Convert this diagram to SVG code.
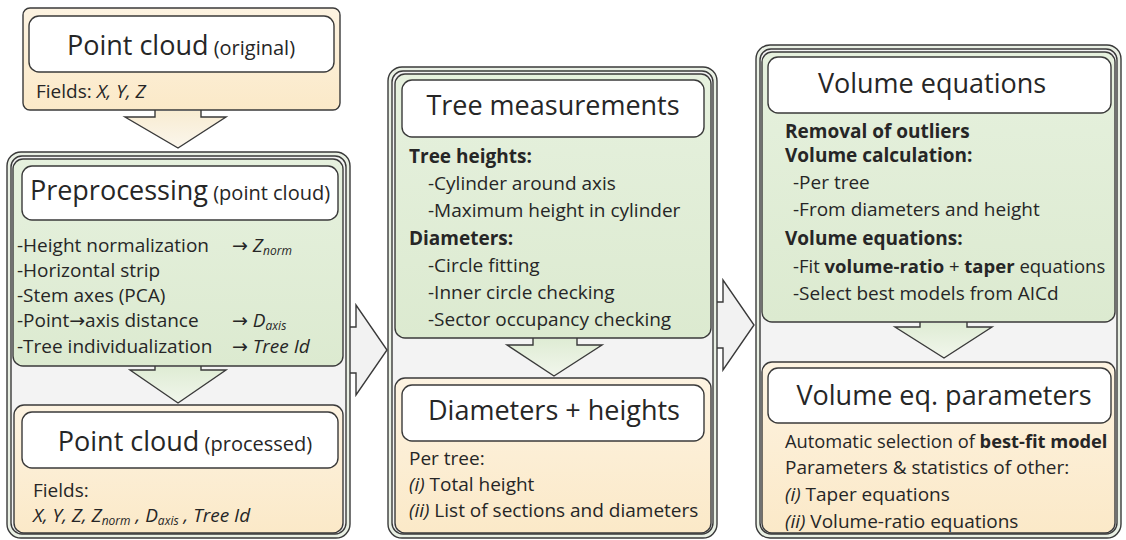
<svg xmlns="http://www.w3.org/2000/svg" width="1126" height="540" viewBox="0 0 1126 540">
<defs>
<linearGradient id="beige" x1="0" y1="0" x2="0" y2="1"><stop offset="0" stop-color="#fdf3e1"/><stop offset="1" stop-color="#fbe9c8"/></linearGradient>
<linearGradient id="green" x1="0" y1="0" x2="0" y2="1"><stop offset="0" stop-color="#e6f1de"/><stop offset="1" stop-color="#dcead0"/></linearGradient>
<linearGradient id="garrow" x1="0" y1="0" x2="0" y2="1"><stop offset="0" stop-color="#dfecd4"/><stop offset="1" stop-color="#f1f6ec"/></linearGradient>
<linearGradient id="barrow" x1="0" y1="0" x2="0" y2="1"><stop offset="0" stop-color="#f8ecd2"/><stop offset="1" stop-color="#fbf6ec"/></linearGradient>
</defs>
<style>
text{font-family:"Open Sans","Noto Sans","DejaVu Sans",sans-serif;fill:#262626;font-size:19px}
.ttl{font-size:27px}
.par{font-size:20px}
.b{font-weight:700}
.i{font-style:italic}
.sub{font-size:12px;font-style:italic}
.ln{stroke:#3a3a3a;stroke-width:1.4;fill:none}
.frameOut{fill:#e9f0e4;stroke:#3a3a3a;stroke-width:1.4}
.frameIn{fill:#f3f3f3;stroke:#3a3a3a;stroke-width:1.4}
.bg{fill:url(#beige);stroke:#3a3a3a;stroke-width:1.4}
.gr{fill:url(#green);stroke:#3a3a3a;stroke-width:1.4}
.wt{fill:#ffffff;stroke:#3a3a3a;stroke-width:1.4}
</style>
<rect width="1126" height="540" fill="#ffffff"/>

<!-- right arrows (beneath frames) -->
<g id="connectors-right">
<polygon points="345,327 356,327 356,305 387,350 356,395 356,373 345,373" fill="#f2f2f2"/>
<path class="ln" d="M349,327 H356 V305 L387,350 L356,395 V373 H349"/>
<polygon points="712,302 723,302 723,280 754,325 723,370 723,348 712,348" fill="#f2f2f2"/>
<path class="ln" d="M716,302 H723 V280 L754,325 L723,370 V348 H716"/>
</g>

<!-- frames -->
<g id="frame-preprocessing">
<rect class="frameOut" x="7" y="152" width="343" height="386" rx="14"/>
<rect class="frameIn" x="11" y="156" width="335" height="378" rx="11"/>
</g>
<g id="frame-tree">
<rect class="frameOut" x="388" y="67" width="329" height="471" rx="14"/>
<rect class="frameIn" x="392" y="71" width="321" height="463" rx="11"/>
</g>
<g id="frame-volume">
<rect class="frameOut" x="756" y="45" width="365" height="493" rx="14"/>
<rect class="frameIn" x="760" y="49" width="357" height="485" rx="11"/>
</g>

<!-- down arrows -->
<g id="connectors">
<polygon points="155,111 155,117 125,117 178,148 226,117 201,117 201,111" fill="url(#barrow)"/>
<path class="ln" d="M155,110 V117 H125 L178,148 L226,117 H201 V110"/>
<polygon points="155,367 155,370 130,370 178,403 226,370 201,370 201,367" fill="url(#garrow)"/>
<path class="ln" d="M155,366 V370 H130 L178,403 L226,370 H201 V366"/>
<polygon points="533,339 533,345 507,345 554,376 602,345 577,345 577,339" fill="url(#garrow)"/>
<path class="ln" d="M533,338 V345 H507 L554,376 L602,345 H577 V338"/>
<polygon points="920,323 920,327 895,327 944,358 992,327 967,327 967,323" fill="url(#garrow)"/>
<path class="ln" d="M920,322 V327 H895 L944,358 L992,327 H967 V322"/>
</g>

<!-- Column 1 -->
<g id="pc-original">
<rect class="bg" x="23" y="8" width="317" height="102" rx="7"/>
<rect class="wt" x="29" y="16" width="305" height="56" rx="10"/>
<text x="181" y="55" text-anchor="middle"><tspan class="ttl">Point cloud</tspan><tspan class="par"> (original)</tspan></text>
<text x="36" y="98">Fields: <tspan class="i">X, Y, Z</tspan></text>
</g>

<g id="preprocessing">
<rect class="gr" x="13" y="159" width="330" height="207" rx="10"/>
<rect class="wt" x="22" y="166" width="316" height="54" rx="10"/>
<text x="180" y="200" text-anchor="middle"><tspan class="ttl">Preprocessing</tspan><tspan class="par"> (point cloud)</tspan></text>
<text x="17" y="252">-Height normalization <tspan x="232">→ </tspan><tspan class="i">Z</tspan><tspan class="sub" dy="3">norm</tspan></text>
<text x="17" y="277">-Horizontal strip</text>
<text x="17" y="302">-Stem axes (PCA)</text>
<text x="17" y="327">-Point→axis distance <tspan x="232">→ </tspan><tspan class="i">D</tspan><tspan class="sub" dy="3">axis</tspan></text>
<text x="17" y="353">-Tree individualization <tspan x="232">→ </tspan><tspan class="i">Tree Id</tspan></text>
</g>

<g id="pc-processed">
<rect class="bg" x="14" y="405" width="329" height="128" rx="10"/>
<rect class="wt" x="22" y="412" width="316" height="56" rx="10"/>
<text x="185" y="451" text-anchor="middle"><tspan class="ttl">Point cloud</tspan><tspan class="par"> (processed)</tspan></text>
<text x="33" y="497">Fields:</text>
<text x="33" y="522" class="i">X, Y, Z, Z<tspan class="sub" dy="3">norm</tspan><tspan dy="-3"> , D</tspan><tspan class="sub" dy="3">axis</tspan><tspan dy="-3"> , Tree Id</tspan></text>
</g>

<!-- Column 2 -->
<g id="tree-measurements">
<rect class="gr" x="395" y="74" width="316" height="264" rx="10"/>
<rect class="wt" x="402" y="80" width="302" height="57" rx="10"/>
<text x="553" y="115" text-anchor="middle" class="ttl">Tree measurements</text>
<text x="409" y="163" class="b">Tree heights:</text>
<text x="428" y="190">-Cylinder around axis</text>
<text x="428" y="217">-Maximum height in cylinder</text>
<text x="409" y="245" class="b">Diameters:</text>
<text x="428" y="272">-Circle fitting</text>
<text x="428" y="299">-Inner circle checking</text>
<text x="428" y="326">-Sector occupancy checking</text>
</g>

<g id="diameters-heights">
<rect class="bg" x="395" y="378" width="316" height="155" rx="10"/>
<rect class="wt" x="402" y="385" width="302" height="56" rx="10"/>
<text x="554" y="420" text-anchor="middle" class="ttl">Diameters + heights</text>
<text x="409" y="465">Per tree:</text>
<text x="409" y="491"><tspan class="i">(i)</tspan> Total height</text>
<text x="409" y="517"><tspan class="i">(ii)</tspan> List of sections and diameters</text>
</g>

<!-- Column 3 -->
<g id="volume-equations">
<rect class="gr" x="762" y="52" width="353" height="270" rx="10"/>
<rect class="wt" x="768" y="57" width="343" height="56" rx="10"/>
<text x="932" y="93" text-anchor="middle" class="ttl">Volume equations</text>
<text x="785" y="138" class="b">Removal of outliers</text>
<text x="785" y="162" class="b">Volume calculation:</text>
<text x="793" y="189">-Per tree</text>
<text x="793" y="216">-From diameters and height</text>
<text x="785" y="245" class="b">Volume equations:</text>
<text x="793" y="273" style="font-size:18.5px">-Fit <tspan class="b">volume-ratio</tspan> + <tspan class="b">taper</tspan> equations</text>
<text x="793" y="300">-Select best models from AICd</text>
</g>

<g id="volume-parameters">
<rect class="bg" x="762" y="362" width="353" height="171" rx="10"/>
<rect class="wt" x="768" y="368" width="343" height="55" rx="10"/>
<text x="944" y="405" text-anchor="middle" class="ttl">Volume eq. parameters</text>
<text x="785" y="448" style="font-size:18.3px">Automatic selection of <tspan class="b">best-fit model</tspan></text>
<text x="785" y="474">Parameters &amp; statistics of other:</text>
<text x="785" y="501"><tspan class="i">(i)</tspan> Taper equations</text>
<text x="785" y="528"><tspan class="i">(ii)</tspan> Volume-ratio equations</text>
</g>
</svg>
